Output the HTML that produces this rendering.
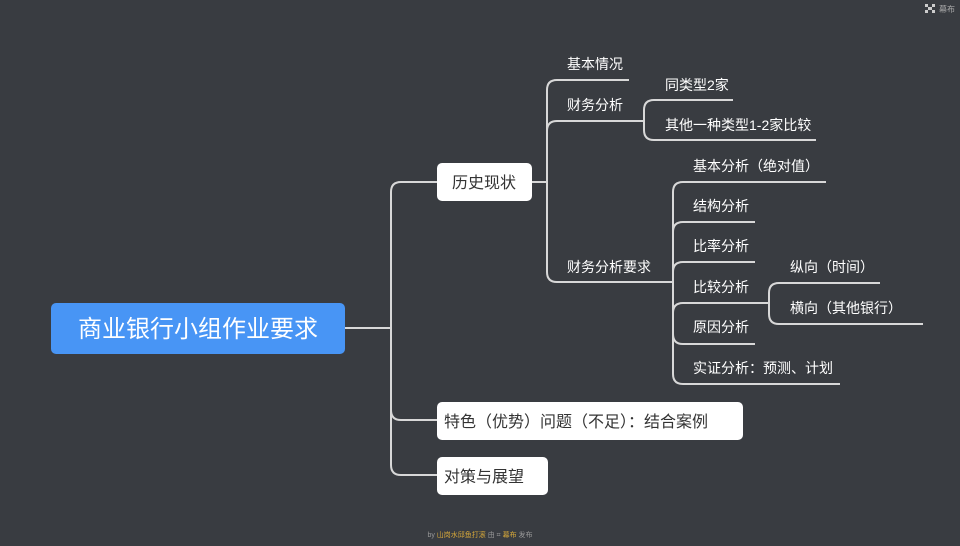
<!DOCTYPE html>
<html><head><meta charset="utf-8"><style>
html,body{margin:0;padding:0;background:#393c41;}
svg{display:block}
text{font-family:"Liberation Sans","Noto Sans CJK SC",sans-serif;}
</style></head><body>
<svg width="960" height="546" viewBox="0 0 960 546" xmlns="http://www.w3.org/2000/svg">
<rect width="960" height="546" fill="#393c41"/>
<g fill="none" stroke="#d8d8d8" stroke-width="2">
<path d="M345 328 H391"/>
<path d="M401 182 Q391 182 391 192 V465 Q391 475 401 475 H437"/>
<path d="M391 410 Q391 420 401 420 H437"/>
<path d="M401 182 H437"/>
<path d="M531 182 H547"/>
<path d="M629 80 H557 Q547 80 547 90 V272 Q547 282 557 282 H673"/>
<path d="M547 131 Q547 121 557 121 H644"/>
<path d="M733 100 H654 Q644 100 644 110 V130 Q644 140 654 140 H816"/>
<path d="M826 182 H683 Q673 182 673 192 V374 Q673 384 683 384 H840"/>
<path d="M673 232 Q673 222 683 222 H755"/>
<path d="M673 272 Q673 262 683 262 H755"/>
<path d="M673 313 Q673 303 683 303 H769"/>
<path d="M673 334 Q673 344 683 344 H755"/>
<path d="M880 283 H779 Q769 283 769 293 V314 Q769 324 779 324 H923"/>
</g>
<rect x="51" y="303" width="294" height="51" rx="5" fill="#4895f5"/>
<text x="198" y="337" font-size="24" fill="#fff" text-anchor="middle">商业银行小组作业要求</text>
<rect x="437" y="163" width="95" height="38" rx="5" fill="#fff"/>
<text x="484" y="188" font-size="16" fill="#333" text-anchor="middle">历史现状</text>
<rect x="437" y="402" width="306" height="38" rx="5" fill="#fff"/>
<text x="444" y="427" font-size="16" fill="#333">特色（优势）问题（不足）：结合案例</text>
<rect x="437" y="457" width="111" height="38" rx="5" fill="#fff"/>
<text x="444" y="482" font-size="16" fill="#333">对策与展望</text>
<g font-size="14" fill="#fff">
<text x="567" y="69">基本情况</text>
<text x="567" y="110">财务分析</text>
<text x="567" y="272">财务分析要求</text>
<text x="665" y="90">同类型2家</text>
<text x="665" y="130">其他一种类型1-2家比较</text>
<text x="693" y="171">基本分析（绝对值）</text>
<text x="693" y="211">结构分析</text>
<text x="693" y="251">比率分析</text>
<text x="693" y="292">比较分析</text>
<text x="693" y="332">原因分析</text>
<text x="693" y="373">实证分析：预测、计划</text>
<text x="790" y="272">纵向（时间）</text>
<text x="790" y="313">横向（其他银行）</text>
</g>
<g fill="#ccc"><rect x="925" y="4" width="3" height="3"/><rect x="932" y="4" width="3" height="3"/><rect x="925" y="10" width="3" height="3"/><rect x="932" y="10" width="3" height="3"/><rect x="928" y="7" width="4" height="3"/></g>
<text x="939" y="12" font-size="8" fill="#aaa">幕布</text>
<text x="480" y="537" font-size="7" fill="#999" text-anchor="middle">by <tspan fill="#d8a93a">山岗水邱鱼打滚</tspan> 由 ⌗ <tspan fill="#d8a93a">幕布</tspan> 发布</text>
</svg>
</body></html>
